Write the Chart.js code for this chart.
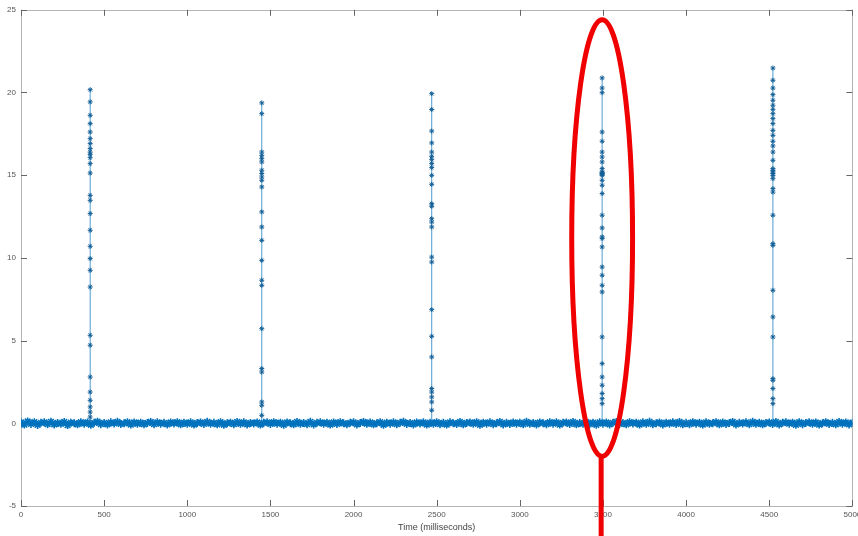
<!DOCTYPE html>
<html>
<head>
<meta charset="utf-8">
<script src="https://cdn.jsdelivr.net/npm/chart.js@4.4.0/dist/chart.umd.min.js"></script>
<style>
    html, body { margin: 0; padding: 0; background: #fff; }
    #wrap { width: 858px; height: 536px; }
</style>
</head>
<body>
<div id="wrap"><canvas id="chartSignal"></canvas></div>
<script>
const xTicks = [0, 500, 1000, 1500, 2000, 2500, 3000, 3500, 4000, 4500, 5000];
const yTicks = [-5, 0, 5, 10, 15, 20, 25];

// baseline noise, one value every 20 ms from 0 to 5000
const baseStep = 20;
const baseline = [
    0.05,-0.08,0.11,-0.04,0.07,-0.10,0.03,0.06,-0.05,0.09,-0.07,0.02,-0.03,0.08,-0.11,0.04,0.01,-0.06,0.07,-0.02,0.05,-0.09,0.03,0.10,-0.05,
    0.02,-0.07,0.06,-0.01,0.09,-0.04,0.00,0.07,-0.08,0.05,-0.03,0.04,-0.06,0.02,0.08,-0.05,0.06,-0.02,0.03,-0.07,0.05,-0.01,0.07,-0.06,0.04,
    -0.03,0.06,-0.08,0.02,0.05,-0.04,0.09,-0.02,0.03,-0.06,0.07,-0.09,0.01,0.04,-0.05,0.08,-0.03,0.06,-0.07,0.02,-0.01,0.05,-0.08,0.03,0.06,
    -0.04,0.07,-0.02,0.04,-0.09,0.05,0.01,-0.06,0.08,-0.03,0.02,-0.05,0.09,-0.07,0.03,0.06,-0.02,0.04,-0.08,0.05,-0.04,0.07,0.00,-0.05,0.03,
    0.06,-0.07,0.02,0.08,-0.03,0.05,-0.06,0.01,0.07,-0.09,0.04,-0.02,0.06,-0.05,0.03,0.09,-0.04,0.02,-0.07,0.05,-0.01,0.06,-0.08,0.04,-0.03,
    0.07,-0.05,0.03,-0.08,0.06,0.01,-0.04,0.08,-0.06,0.02,0.05,-0.03,0.07,-0.09,0.04,-0.02,0.06,-0.05,0.01,0.08,-0.07,0.03,-0.04,0.05,-0.02,
    0.04,-0.06,0.09,-0.03,0.02,-0.07,0.05,0.01,-0.05,0.07,-0.02,0.06,-0.08,0.03,0.05,-0.04,0.08,-0.06,0.02,-0.03,0.07,-0.05,0.04,-0.09,0.06,
    -0.02,0.05,-0.07,0.03,0.08,-0.04,0.02,-0.06,0.07,-0.01,0.04,-0.08,0.06,-0.03,0.09,-0.05,0.01,0.05,-0.07,0.04,-0.02,0.06,-0.04,0.08,-0.06,
    0.03,-0.05,0.07,-0.02,0.04,-0.08,0.06,-0.03,0.01,0.07,-0.06,0.05,-0.04,0.02,0.08,-0.07,0.03,-0.01,0.06,-0.05,0.09,-0.03,0.04,-0.06,0.02,
    0.05,-0.04,0.08,-0.07,0.03,0.06,-0.02,0.04,-0.09,0.07,-0.05,0.02,0.06,-0.03,0.05,-0.08,0.01,0.07,-0.04,0.03,-0.06,0.08,-0.02,0.05,-0.07,
    0.04
];

// spikes: time (ms) and sample values read top to bottom
const spikeTimes = [416, 1448, 2470, 3495, 4522];
const spike1 = [20.17,19.43,18.62,18.12,17.61,17.21,16.91,16.61,16.40,16.26,16.06,15.70,15.13,13.78,13.48,12.68,11.67,10.70,9.96,9.25,8.24,5.32,4.72,2.80,1.89,1.39,0.99,0.68,0.38];
const spike2 = [19.37,18.72,16.40,16.20,16.00,15.80,15.30,15.10,14.89,14.69,14.29,12.78,11.87,11.06,9.85,8.65,8.34,5.72,3.31,3.10,1.29,1.09,0.48];
const spike3 = [19.93,18.97,17.67,16.95,16.40,16.14,15.94,15.70,15.46,14.99,14.45,13.28,13.12,12.37,12.17,11.87,10.05,9.75,6.87,5.26,4.01,2.10,1.89,1.59,1.29,0.79];
const spike4 = [20.88,20.27,19.99,17.61,17.05,16.40,16.10,15.80,15.40,15.19,15.15,15.10,15.05,14.99,14.69,14.39,13.89,12.58,11.81,11.27,11.17,10.66,9.45,8.95,8.34,7.94,5.22,3.61,2.80,2.30,1.80,1.49,1.19];
const spike5 = [21.48,20.74,20.27,19.87,19.53,19.23,18.98,18.72,18.42,18.12,17.71,17.41,17.05,16.77,16.40,15.90,15.40,15.30,15.19,15.10,14.99,14.79,14.19,13.98,12.58,10.86,10.76,8.04,6.43,5.22,2.70,2.60,2.10,1.49,1.19];
const spikes = [spike1, spike2, spike3, spike4, spike5];

// red ellipse drawn over the fourth spike (data units)
const ring = { cx: 3495, cy: 11.2, rx: 183, ry: 13.2 };

const BLUE = 'rgb(0, 114, 189)';

const frame = {
    id: 'frame',
    beforeDatasetsDraw(chart) {
        const {ctx, chartArea: a, scales: {x, y}} = chart;
        ctx.save();
        ctx.strokeStyle = '#b4b4b4';
        ctx.lineWidth = 1;
        ctx.strokeRect(Math.round(a.left) + 0.5, Math.round(a.top) + 0.5,
            Math.round(a.right - a.left), Math.round(a.bottom - a.top));
        ctx.strokeStyle = '#666';
        ctx.beginPath();
        xTicks.forEach(v => {
            const px = Math.round(x.getPixelForValue(v)) + 0.5;
            ctx.moveTo(px, a.bottom); ctx.lineTo(px, a.bottom - 6);
            ctx.moveTo(px, a.top); ctx.lineTo(px, a.top + 6);
        });
        yTicks.forEach(v => {
            const py = Math.round(y.getPixelForValue(v)) + 0.5;
            ctx.moveTo(a.left, py); ctx.lineTo(a.left + 6, py);
            ctx.moveTo(a.right, py); ctx.lineTo(a.right - 6, py);
        });
        ctx.stroke();
        ctx.restore();
    }
};

const markup = {
    id: 'markup',
    afterDraw(chart) {
        const {ctx, scales: {x, y}} = chart;
        const cx = x.getPixelForValue(ring.cx);
        const cy = y.getPixelForValue(ring.cy);
        const rx = x.getPixelForValue(ring.cx + ring.rx) - cx;
        const ry = y.getPixelForValue(ring.cy - ring.ry) - cy;
        ctx.save();
        ctx.strokeStyle = 'rgb(240, 0, 0)';
        ctx.lineWidth = 5;
        ctx.beginPath();
        ctx.ellipse(cx, cy, rx, ry, 0, 0, Math.PI * 2);
        ctx.stroke();
        ctx.beginPath();
        ctx.moveTo(cx - 1, cy + ry);
        ctx.lineTo(cx - 1, chart.height);
        ctx.stroke();
        ctx.restore();
    }
};

const baseData = baseline.map((v, i) => ({x: i * baseStep, y: v}));

const spikeSets = spikes.map((vals, i) => {
    const t = spikeTimes[i];
    const foot = baseline[Math.round(t / baseStep)];
    const pts = [{x: t, y: foot}].concat(vals.slice().reverse().map(v => ({x: t, y: v})));
    return {
        label: 'spike ' + (i + 1),
        data: pts,
        borderColor: 'rgba(0, 114, 189, 0.7)',
        borderWidth: 1,
        pointStyle: 'star',
        pointRadius: 2.5,
        pointBorderWidth: 1,
        pointBorderColor: 'rgb(20, 95, 150)',
        pointBackgroundColor: BLUE
    };
});

const data = {
    datasets: [
        {
            label: 'baseline',
            data: baseData,
            borderColor: BLUE,
            borderWidth: 4,
            pointStyle: 'star',
            pointRadius: 4,
            pointBorderWidth: 1.6,
            pointBorderColor: BLUE,
            pointBackgroundColor: BLUE,
            tension: 0
        }
    ].concat(spikeSets)
};

const config = {
    type: 'line',
    data: data,
    options: {
        animation: false,
        responsive: true,
        maintainAspectRatio: false,
        devicePixelRatio: 1,
        layout: {
            padding: {top: 9, right: 5, left: 0, bottom: 0}
        },
        plugins: {
            legend: {display: false},
            tooltip: {enabled: false}
        },
        scales: {
            x: {
                type: 'linear',
                min: 0,
                max: 5000,
                afterBuildTicks: s => { s.ticks = xTicks.map(v => ({value: v})); },
                afterFit: s => { s.height = 30; s.paddingLeft = 0; s.paddingRight = 0; },
                grid: {display: true, drawOnChartArea: false, drawTicks: false},
                border: {display: false},
                ticks: {
                    padding: 4,
                    color: '#555',
                    font: {family: 'Liberation Sans', size: 8},
                    maxRotation: 0,
                    callback: v => String(v)
                },
                title: {
                    display: true,
                    text: 'Time (milliseconds)',
                    color: '#444',
                    font: {family: 'Liberation Sans', size: 9},
                    padding: {top: 0, bottom: 3}
                }
            },
            y: {
                type: 'linear',
                min: -5,
                max: 25,
                afterBuildTicks: s => { s.ticks = yTicks.map(v => ({value: v})); },
                afterFit: s => { s.width = 21; },
                grid: {display: true, drawOnChartArea: false, drawTicks: false},
                border: {display: false},
                ticks: {
                    padding: 5,
                    color: '#555',
                    font: {family: 'Liberation Sans', size: 8},
                    callback: v => String(v)
                }
            }
        }
    },
    plugins: [frame, markup]
};

let ctx = document.getElementById('chartSignal').getContext('2d');
new Chart(ctx, config);
</script>
</body>
</html>
